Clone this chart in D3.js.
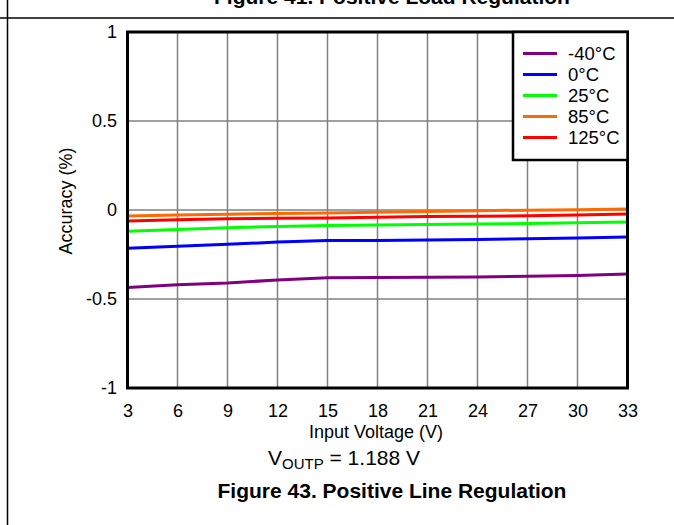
<!DOCTYPE html>
<html><head><meta charset="utf-8">
<script src="https://cdn.jsdelivr.net/npm/d3@7"></script>
<style>
html,body{margin:0;padding:0;background:#fff;}
svg{display:block;font-family:"Liberation Sans",Arial,sans-serif;}
</style></head>
<body>
<svg id="chart" width="674" height="525"></svg>
<script>
const voltages = [3, 6, 9, 12, 15, 18, 21, 24, 27, 30, 33];
const seriesNames = ["-40°C", "0°C", "25°C", "85°C", "125°C"];
const seriesColors = ["#800080", "#0000ff", "#00ff00", "#ff6a00", "#ff0000"];
const accM40 = [-0.435, -0.42, -0.41, -0.393, -0.38, -0.379, -0.378, -0.376, -0.372, -0.368, -0.36];
const acc0 = [-0.215, -0.203, -0.193, -0.18, -0.172, -0.171, -0.169, -0.166, -0.162, -0.158, -0.152];
const acc25 = [-0.12, -0.11, -0.1, -0.092, -0.087, -0.084, -0.082, -0.079, -0.076, -0.072, -0.067];
const acc85 = [-0.034, -0.028, -0.024, -0.019, -0.017, -0.012, -0.008, -0.004, -0.001, 0.002, 0.006];
const acc125 = [-0.062, -0.055, -0.049, -0.047, -0.045, -0.041, -0.037, -0.035, -0.032, -0.028, -0.022];
const xTicks = [3, 6, 9, 12, 15, 18, 21, 24, 27, 30, 33];
const yTicks = [-1, -0.5, 0, 0.5, 1];
const yTickLabels = ["-1", "-0.5", "0", "0.5", "1"];

const seriesValues = [accM40, acc0, acc25, acc85, acc125];
// draw order: purple, blue, green, red, orange on top
const drawOrder = [0, 1, 2, 4, 3];

const svg = d3.select("#chart");
const W = 674, H = 525;
const L = 127.5, R = 627.5, T = 32, B = 388;
const x = d3.scaleLinear().domain([3, 33]).range([L, R]);
const y = d3.scaleLinear().domain([-1, 1]).range([B, T]);

// page frame lines
svg.append("line").attr("x1", 7.5).attr("x2", 7.5).attr("y1", 0).attr("y2", H)
  .attr("stroke", "#000").attr("stroke-width", 1.5);
svg.append("line").attr("x1", 0).attr("x2", W).attr("y1", 18).attr("y2", 18)
  .attr("stroke", "#000").attr("stroke-width", 1.5);

// top caption (cut off in the reference)
svg.append("text").attr("x", 392).attr("y", 4).attr("text-anchor", "middle")
  .attr("font-weight", "bold").attr("font-size", 21).text("Figure 41. Positive Load Regulation");

// grid
const grid = svg.append("g");
grid.selectAll("line.v").data(xTicks.slice(1, -1)).join("line")
  .attr("x1", d => x(d)).attr("x2", d => x(d)).attr("y1", T).attr("y2", B)
  .attr("stroke", "#808080").attr("stroke-width", 1.5);
grid.selectAll("line.h").data(yTicks.slice(1, -1)).join("line")
  .attr("x1", L).attr("x2", R).attr("y1", d => y(d)).attr("y2", d => y(d))
  .attr("stroke", "#808080").attr("stroke-width", 1.5);

// series lines
const line = d3.line().x((d, i) => x(voltages[i])).y(d => y(d));
svg.append("g").selectAll("path").data(drawOrder).join("path")
  .attr("d", k => line(seriesValues[k]))
  .attr("fill", "none").attr("stroke", k => seriesColors[k]).attr("stroke-width", 3);

// frame
svg.append("rect").attr("x", L).attr("y", T).attr("width", R - L).attr("height", B - T)
  .attr("fill", "none").attr("stroke", "#000").attr("stroke-width", 3);

// axes (labels only)
const xAxis = d3.axisBottom(x).tickValues(xTicks).tickSize(0).tickPadding(0);
const gx = svg.append("g").attr("transform", `translate(0,${B + 16})`).call(xAxis);
gx.select(".domain").remove();
gx.selectAll("text").attr("font-size", 18).attr("font-family", "Liberation Sans, Arial, sans-serif")
  .attr("fill", "#000");

const yAxis = d3.axisLeft(y).tickValues(yTicks).tickFormat((d, i) => yTickLabels[i]).tickSize(0).tickPadding(10.5);
const gy = svg.append("g").attr("transform", `translate(${L},0)`).call(yAxis);
gy.select(".domain").remove();
gy.selectAll("text").attr("font-size", 18).attr("font-family", "Liberation Sans, Arial, sans-serif")
  .attr("fill", "#000");

// axis titles
svg.append("text").attr("x", 376).attr("y", 438).attr("text-anchor", "middle")
  .attr("font-size", 18).text("Input Voltage (V)");
svg.append("text").attr("transform", "translate(72,201) rotate(-90)").attr("text-anchor", "middle")
  .attr("font-size", 18).text("Accuracy (%)");

// VOUTP annotation
const vt = svg.append("text").attr("x", 268).attr("y", 465).attr("font-size", 21);
vt.append("tspan").text("V");
vt.append("tspan").attr("font-size", 15).attr("dy", 4).text("OUTP");
vt.append("tspan").attr("dy", -4).text(" = 1.188 V");

// bottom caption
svg.append("text").attr("x", 392).attr("y", 498).attr("text-anchor", "middle")
  .attr("font-weight", "bold").attr("font-size", 21).text("Figure 43. Positive Line Regulation");

// legend
const lg = svg.append("g");
lg.append("rect").attr("x", 513).attr("y", T).attr("width", R - 513).attr("height", 128)
  .attr("fill", "#fff").attr("stroke", "#000").attr("stroke-width", 2.5);
const rows = lg.selectAll("g.row").data(seriesNames).join("g")
  .attr("transform", (d, i) => `translate(0,${53.5 + i * 21})`);
rows.append("line").attr("x1", 523).attr("x2", 557).attr("y1", 0).attr("y2", 0)
  .attr("stroke", (d, i) => seriesColors[i]).attr("stroke-width", 3);
rows.append("text").attr("x", 568).attr("y", 6.5).attr("font-size", 18.5).text(d => d);
</script>
</body></html>
